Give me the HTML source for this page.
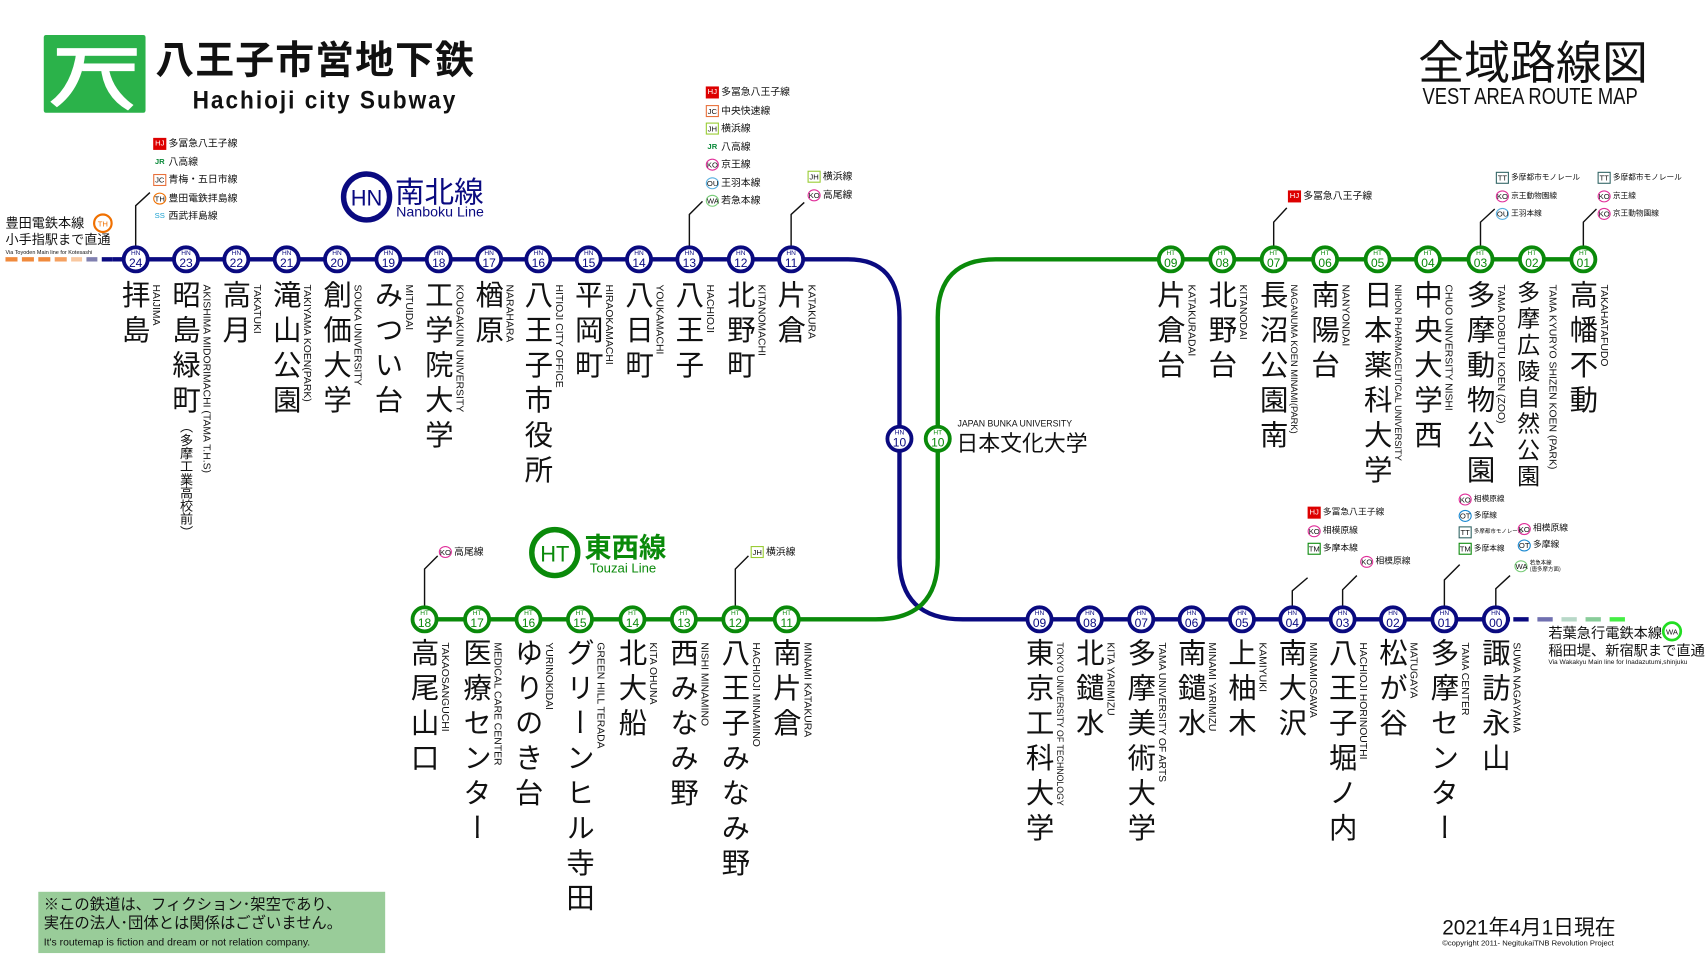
<!DOCTYPE html>
<html><head><meta charset="utf-8">
<style>
html,body{margin:0;padding:0;background:#fff;overflow:hidden}
#w{position:absolute;left:0;top:0;width:1560px;height:877px;transform:scale(1.09423);transform-origin:0 0;font-family:"Liberation Sans","Noto Sans CJK JP",sans-serif;color:#111}
.k{position:absolute;writing-mode:vertical-rl;font-size:26px;line-height:26px;letter-spacing:6px;width:26px;white-space:nowrap;font-family:"Noto Sans CJK JP","Liberation Sans",sans-serif;top:256px}
.kl{top:583px;letter-spacing:6px}
.r{position:absolute;writing-mode:vertical-rl;font-size:9.5px;line-height:11px;white-space:nowrap;font-family:"Liberation Sans Narrow","Liberation Sans",sans-serif;top:260px}
.rl{top:587px}
.t{position:absolute;font-size:9px;line-height:10px;white-space:nowrap;font-family:"Noto Sans CJK JP",sans-serif}
.t div{height:16.5px;display:flex;align-items:flex-start}
.b{display:inline-block;width:12px;height:11px;font-size:7px;line-height:11px;text-align:center;margin-right:2px;font-family:"Liberation Sans",sans-serif;box-sizing:border-box}
svg{position:absolute;left:0;top:0}
</style></head><body><div id="w">
<svg width="1560" height="877" viewBox="0 0 1560 877">
<rect x="40" y="32" width="93" height="71" rx="2" fill="#2bb24a"/>
<rect x="52" y="44" width="73" height="7" fill="#fff"/>
<rect x="75" y="58" width="48" height="7" fill="#fff"/>
<path d="M70 46 L78 46 Q76 80 52 98 L46 93 Q66 78 70 46Z" fill="#fff"/>
<path d="M92 60 L99 60 Q102 82 122 96 L117 101 Q94 88 92 60Z" fill="#fff"/>
<g stroke-width="4">
<line x1="5" y1="237" x2="16" y2="237" stroke="#f08a3c"/><line x1="20" y1="237" x2="31" y2="237" stroke="#f08a3c"/><line x1="35" y1="237" x2="46" y2="237" stroke="#f08a3c"/><line x1="50" y1="237" x2="61" y2="237" stroke="#f4a060"/><line x1="65" y1="237" x2="75" y2="237" stroke="#f8c8a0"/><line x1="79" y1="237" x2="89" y2="237" stroke="#8080b0"/><line x1="93" y1="237" x2="103" y2="237" stroke="#0a0a80"/>
<line x1="1383" y1="566" x2="1397" y2="566" stroke="#0a0a80"/><line x1="1405" y1="566" x2="1419" y2="566" stroke="#7070b0"/><line x1="1427" y1="566" x2="1441" y2="566" stroke="#b8d8c8"/><line x1="1449" y1="566" x2="1463" y2="566" stroke="#88cc99"/><line x1="1471" y1="566" x2="1485" y2="566" stroke="#44ee44"/>
</g>
<path d="M103 237 L775 237 Q822 237 822 290 L822 510 Q822 566 880 566 L1380 566" fill="none" stroke="#0a0a80" stroke-width="4"/>
<path d="M1447 237 L910 237 Q857 237 857 290 L857 510 Q857 566 800 566 L388 566" fill="none" stroke="#0a8a0a" stroke-width="4"/>
<g stroke="#111" stroke-width="1.3" fill="none">
<path d="M124 225 V188 L137 176"/><path d="M630 225 V196 L642 184"/><path d="M723 225 V196 L735 185"/>
<path d="M1164 225 V203 L1176 190"/><path d="M1353 225 V203 L1366 191"/><path d="M1447 225 V203 L1459 191"/>
<path d="M1181 554 V540 L1195 528"/><path d="M1227 554 V539 L1240 526"/><path d="M1320 554 V530 L1334 516"/><path d="M1367 554 V538 L1380 526"/>
<path d="M388 554 V520 L400 508"/><path d="M672 554 V520 L684 508"/>
</g>
<circle cx="335" cy="180" r="21" fill="#fff" stroke="#0a0a80" stroke-width="5"/>
<text x="335" y="188" font-size="20" text-anchor="middle" fill="#0a0a80" font-family="Liberation Sans">HN</text>
<circle cx="507" cy="505" r="21" fill="#fff" stroke="#0a8a0a" stroke-width="5"/>
<text x="507" y="513" font-size="20" text-anchor="middle" fill="#0a8a0a" font-family="Liberation Sans">HT</text>
<circle cx="94" cy="204" r="8" fill="#fff" stroke="#f07000" stroke-width="2"/><text x="94" y="207" font-size="7" text-anchor="middle" fill="#f07000">TH</text>
<circle cx="1528" cy="577" r="8" fill="#fff" stroke="#22dd22" stroke-width="2.5"/><text x="1528" y="580" font-size="7" text-anchor="middle" fill="#111">WA</text>
<g font-family="Liberation Sans Narrow,Liberation Sans" text-anchor="middle">
<g fill="#fff" stroke="#0a0a80" stroke-width="3.5">
<circle cx="124" cy="237" r="11"/><circle cx="170" cy="237" r="11"/><circle cx="216" cy="237" r="11"/><circle cx="262" cy="237" r="11"/><circle cx="308" cy="237" r="11"/><circle cx="355" cy="237" r="11"/><circle cx="401" cy="237" r="11"/><circle cx="447" cy="237" r="11"/><circle cx="492" cy="237" r="11"/><circle cx="538" cy="237" r="11"/><circle cx="584" cy="237" r="11"/><circle cx="630" cy="237" r="11"/><circle cx="677" cy="237" r="11"/><circle cx="723" cy="237" r="11"/><circle cx="822" cy="401" r="11"/>
<circle cx="950" cy="566" r="11"/><circle cx="996" cy="566" r="11"/><circle cx="1043" cy="566" r="11"/><circle cx="1089" cy="566" r="11"/><circle cx="1135" cy="566" r="11"/><circle cx="1181" cy="566" r="11"/><circle cx="1227" cy="566" r="11"/><circle cx="1273" cy="566" r="11"/><circle cx="1320" cy="566" r="11"/><circle cx="1367" cy="566" r="11"/>
</g>
<g fill="#fff" stroke="#0a8a0a" stroke-width="3.5">
<circle cx="1070" cy="237" r="11"/><circle cx="1117" cy="237" r="11"/><circle cx="1164" cy="237" r="11"/><circle cx="1211" cy="237" r="11"/><circle cx="1259" cy="237" r="11"/><circle cx="1305" cy="237" r="11"/><circle cx="1353" cy="237" r="11"/><circle cx="1400" cy="237" r="11"/><circle cx="1447" cy="237" r="11"/><circle cx="857" cy="401" r="11"/>
<circle cx="388" cy="566" r="11"/><circle cx="436" cy="566" r="11"/><circle cx="483" cy="566" r="11"/><circle cx="530" cy="566" r="11"/><circle cx="578" cy="566" r="11"/><circle cx="625" cy="566" r="11"/><circle cx="672" cy="566" r="11"/><circle cx="719" cy="566" r="11"/>
</g>
<g fill="#0a0a80" font-size="6">
<text x="124" y="233">HN</text><text x="170" y="233">HN</text><text x="216" y="233">HN</text><text x="262" y="233">HN</text><text x="308" y="233">HN</text><text x="355" y="233">HN</text><text x="401" y="233">HN</text><text x="447" y="233">HN</text><text x="492" y="233">HN</text><text x="538" y="233">HN</text><text x="584" y="233">HN</text><text x="630" y="233">HN</text><text x="677" y="233">HN</text><text x="723" y="233">HN</text><text x="822" y="397">HN</text>
<text x="950" y="562">HN</text><text x="996" y="562">HN</text><text x="1043" y="562">HN</text><text x="1089" y="562">HN</text><text x="1135" y="562">HN</text><text x="1181" y="562">HN</text><text x="1227" y="562">HN</text><text x="1273" y="562">HN</text><text x="1320" y="562">HN</text><text x="1367" y="562">HN</text>
</g>
<g fill="#0a0a80" font-size="11">
<text x="124" y="244">24</text><text x="170" y="244">23</text><text x="216" y="244">22</text><text x="262" y="244">21</text><text x="308" y="244">20</text><text x="355" y="244">19</text><text x="401" y="244">18</text><text x="447" y="244">17</text><text x="492" y="244">16</text><text x="538" y="244">15</text><text x="584" y="244">14</text><text x="630" y="244">13</text><text x="677" y="244">12</text><text x="723" y="244">11</text><text x="822" y="408">10</text>
<text x="950" y="573">09</text><text x="996" y="573">08</text><text x="1043" y="573">07</text><text x="1089" y="573">06</text><text x="1135" y="573">05</text><text x="1181" y="573">04</text><text x="1227" y="573">03</text><text x="1273" y="573">02</text><text x="1320" y="573">01</text><text x="1367" y="573">00</text>
</g>
<g fill="#0a8a0a" font-size="6">
<text x="1070" y="233">HT</text><text x="1117" y="233">HT</text><text x="1164" y="233">HT</text><text x="1211" y="233">HT</text><text x="1259" y="233">HT</text><text x="1305" y="233">HT</text><text x="1353" y="233">HT</text><text x="1400" y="233">HT</text><text x="1447" y="233">HT</text><text x="857" y="397">HT</text>
<text x="388" y="562">HT</text><text x="436" y="562">HT</text><text x="483" y="562">HT</text><text x="530" y="562">HT</text><text x="578" y="562">HT</text><text x="625" y="562">HT</text><text x="672" y="562">HT</text><text x="719" y="562">HT</text>
</g>
<g fill="#0a8a0a" font-size="11">
<text x="1070" y="244">09</text><text x="1117" y="244">08</text><text x="1164" y="244">07</text><text x="1211" y="244">06</text><text x="1259" y="244">05</text><text x="1305" y="244">04</text><text x="1353" y="244">03</text><text x="1400" y="244">02</text><text x="1447" y="244">01</text><text x="857" y="408">10</text>
<text x="388" y="573">18</text><text x="436" y="573">17</text><text x="483" y="573">16</text><text x="530" y="573">15</text><text x="578" y="573">14</text><text x="625" y="573">13</text><text x="672" y="573">12</text><text x="719" y="573">11</text>
</g>
</g>
<rect x="35" y="815" width="317" height="56" fill="#99cc99"/>
</svg>

<div style="position:absolute;left:142px;top:29px;font-size:35.5px;font-weight:bold;font-family:'Noto Sans CJK JP',sans-serif;letter-spacing:1px;line-height:48px;white-space:nowrap">八王子市営地下鉄</div>
<div style="position:absolute;left:176px;top:78px;font-size:23px;font-weight:bold;font-family:'Liberation Sans Narrow','Liberation Sans',sans-serif;letter-spacing:2px;transform:scaleX(0.9);transform-origin:0 0;white-space:nowrap">Hachioji city Subway</div>
<div style="position:absolute;left:1296px;top:26px;font-size:42px;font-family:'Noto Sans CJK JP',sans-serif;line-height:58px">全域路線図</div>
<div style="position:absolute;left:1300px;top:77px;font-size:21px;font-family:'Liberation Sans Narrow','Liberation Sans',sans-serif;transform:scaleX(0.8);transform-origin:0 0;white-space:nowrap">VEST AREA ROUTE MAP</div>

<div style="position:absolute;left:361px;top:156px;font-size:27px;color:#0a0a80;font-family:'Noto Sans CJK JP',sans-serif;line-height:36px">南北線</div>
<div style="position:absolute;left:362px;top:186px;font-size:13px;color:#0a0a80">Nanboku Line</div>
<div style="position:absolute;left:534px;top:482px;font-size:25px;color:#0a8a0a;font-weight:bold;font-family:'Noto Sans CJK JP',sans-serif;line-height:34px">東西線</div>
<div style="position:absolute;left:539px;top:512px;font-size:12px;color:#0a8a0a">Touzai Line</div>

<div style="position:absolute;left:5px;top:196px;font-size:12px;line-height:15px;font-family:'Noto Sans CJK JP',sans-serif">豊田電鉄本線<br>小手指駅まで直通</div>
<div style="position:absolute;left:5px;top:228px;font-size:5px">Via Toyoden Main line for Kotesashi</div>
<div style="position:absolute;left:1415px;top:570px;font-size:13px;line-height:16px;font-family:'Noto Sans CJK JP',sans-serif">若葉急行電鉄本線<br>稲田堤、新宿駅まで直通</div>
<div style="position:absolute;left:1415px;top:603px;font-size:6px">Via Wakakyu Main line for Inadazutumi,shinjuku</div>

<div style="position:absolute;left:875px;top:383px;font-size:8px">JAPAN BUNKA UNIVERSITY</div>
<div style="position:absolute;left:874px;top:390px;font-size:20px;font-family:'Noto Sans CJK JP',sans-serif;line-height:28px">日本文化大学</div>

<div class="k" style="left:111px">拝島</div><div class="r" style="left:137px">HAIJIMA</div>
<div class="k" style="left:157px">昭島緑町<span style="font-size:12px;letter-spacing:0">（多摩工業高校前）</span></div><div class="r" style="left:183px">AKISHIMA MIDORIMACHI (TAMA T.H.S)</div>
<div class="k" style="left:203px">高月</div><div class="r" style="left:229px">TAKATUKI</div>
<div class="k" style="left:249px">滝山公園</div><div class="r" style="left:275px">TAKIYAMA KOEN(PARK)</div>
<div class="k" style="left:295px">創価大学</div><div class="r" style="left:321px">SOUKA UNIVERSITY</div>
<div class="k" style="left:342px">みつい台</div><div class="r" style="left:368px">MITUIDAI</div>
<div class="k" style="left:388px">工学院大学</div><div class="r" style="left:414px">KOUGAKUIN UNIVERSITY</div>
<div class="k" style="left:434px">楢原</div><div class="r" style="left:460px">NARAHARA</div>
<div class="k" style="left:479px">八王子市役所</div><div class="r" style="left:505px">HITIOJI CITY OFFICE</div>
<div class="k" style="left:525px">平岡町</div><div class="r" style="left:551px">HIRAOKAMACHI</div>
<div class="k" style="left:571px">八日町</div><div class="r" style="left:597px">YOUKAMACHI</div>
<div class="k" style="left:617px">八王子</div><div class="r" style="left:643px">HACHIOJI</div>
<div class="k" style="left:664px">北野町</div><div class="r" style="left:690px">KITANOMACHI</div>
<div class="k" style="left:710px">片倉</div><div class="r" style="left:736px">KATAKURA</div>
<div class="k" style="left:1057px">片倉台</div><div class="r" style="left:1083px">KATAKURADAI</div>
<div class="k" style="left:1104px">北野台</div><div class="r" style="left:1130px">KITANODAI</div>
<div class="k" style="left:1151px">長沼公園南</div><div class="r" style="left:1177px;font-size:8.5px">NAGANUMA KOEN MINAMI(PARK)</div>
<div class="k" style="left:1198px">南陽台</div><div class="r" style="left:1224px">NANYONDAI</div>
<div class="k" style="left:1246px">日本薬科大学</div><div class="r" style="left:1272px;font-size:8.5px">NIHON PHARMACEUTICAL UNIVERSITY</div>
<div class="k" style="left:1292px">中央大学西</div><div class="r" style="left:1318px">CHUO UNIVERSITY NISHI</div>
<div class="k" style="left:1340px">多摩動物公園</div><div class="r" style="left:1366px">TAMA DOBUTU KOEN (ZOO)</div>
<div class="k" style="left:1389px;font-size:21px;letter-spacing:3px;width:21px">多摩広陵自然公園</div><div class="r" style="left:1413px">TAMA KYURYO SHIZEN KOEN (PARK)</div>
<div class="k" style="left:1434px">高幡不動</div><div class="r" style="left:1460px">TAKAHATAFUDO</div>

<div class="k kl" style="left:375px">高尾山口</div><div class="r rl" style="left:401px">TAKAOSANGUCHI</div>
<div class="k kl" style="left:423px">医療センター</div><div class="r rl" style="left:449px">MEDICAL CARE CENTER</div>
<div class="k kl" style="left:470px">ゆりのき台</div><div class="r rl" style="left:496px">YURINOKIDAI</div>
<div class="k kl" style="left:517px">グリーンヒル寺田</div><div class="r rl" style="left:543px">GREEN HILL TERADA</div>
<div class="k kl" style="left:565px">北大船</div><div class="r rl" style="left:591px">KITA OHUNA</div>
<div class="k kl" style="left:612px">西みなみ野</div><div class="r rl" style="left:638px">NISHI MINAMINO</div>
<div class="k kl" style="left:659px">八王子みなみ野</div><div class="r rl" style="left:685px">HACHIOJI MINAMINO</div>
<div class="k kl" style="left:706px">南片倉</div><div class="r rl" style="left:732px">MINAMI KATAKURA</div>
<div class="k kl" style="left:937px">東京工科大学</div><div class="r rl" style="left:963px;font-size:8px">TOKYO UNIVERSITY OF TECHNOLOGY</div>
<div class="k kl" style="left:983px">北鑓水</div><div class="r rl" style="left:1009px">KITA YARIMIZU</div>
<div class="k kl" style="left:1030px">多摩美術大学</div><div class="r rl" style="left:1056px">TAMA UNIVERSITY OF ARTS</div>
<div class="k kl" style="left:1076px">南鑓水</div><div class="r rl" style="left:1102px">MINAMI YARIMIZU</div>
<div class="k kl" style="left:1122px">上柚木</div><div class="r rl" style="left:1148px">KAMIYUKI</div>
<div class="k kl" style="left:1168px">南大沢</div><div class="r rl" style="left:1194px">MINAMIOSAWA</div>
<div class="k kl" style="left:1214px">八王子堀ノ内</div><div class="r rl" style="left:1240px">HACHIOJI HORINOUTHI</div>
<div class="k kl" style="left:1260px">松が谷</div><div class="r rl" style="left:1286px">MATUGAYA</div>
<div class="k kl" style="left:1307px">多摩センター</div><div class="r rl" style="left:1333px">TAMA CENTER</div>
<div class="k kl" style="left:1354px">諏訪永山</div><div class="r rl" style="left:1380px">SUWA NAGAYAMA</div>

<div class="t" style="left:140px;top:126px">
<div><span class="b" style="background:#d00;color:#fff">HJ</span>多冨急八王子線</div>
<div><span class="b" style="color:#0a8a3a;font-weight:bold">JR</span>八高線</div>
<div><span class="b" style="border:1.5px solid #e8703a">JC</span>青梅・五日市線</div>
<div><span class="b" style="border:1.5px solid #f07000;border-radius:50%">TH</span>豊田電鉄拝島線</div>
<div><span class="b" style="color:#1aa0d0">SS</span>西武拝島線</div>
</div>
<div class="t" style="left:645px;top:79px">
<div><span class="b" style="background:#d00;color:#fff">HJ</span>多冨急八王子線</div>
<div><span class="b" style="border:1.5px solid #e8703a">JC</span>中央快速線</div>
<div><span class="b" style="border:1.5px solid #9c3">JH</span>横浜線</div>
<div><span class="b" style="color:#0a8a3a;font-weight:bold">JR</span>八高線</div>
<div><span class="b" style="border:1.5px solid #e0309a;border-radius:50%">KO</span>京王線</div>
<div><span class="b" style="border:1.5px solid #5ab0e0;border-radius:50%">OU</span>王羽本線</div>
<div><span class="b" style="border:1.5px solid #77cc77;border-radius:50%">WA</span>若急本線</div>
</div>
<div class="t" style="left:738px;top:156px">
<div><span class="b" style="border:1.5px solid #9c3">JH</span>横浜線</div>
<div><span class="b" style="border:1.5px solid #e0309a;border-radius:50%">KO</span>高尾線</div>
</div>
<div class="t" style="left:1177px;top:174px">
<div><span class="b" style="background:#d00;color:#fff">HJ</span>多冨急八王子線</div>
</div>
<div class="t" style="left:1367px;top:157px;font-size:7px">
<div><span class="b" style="border:1.5px solid #366">TT</span>多摩都市モノレール</div>
<div><span class="b" style="border:1.5px solid #e0309a;border-radius:50%">KO</span>京王動物園線</div>
<div><span class="b" style="border:1.5px solid #5ab0e0;border-radius:50%">OU</span>王羽本線</div>
</div>
<div class="t" style="left:1460px;top:157px;font-size:7px">
<div><span class="b" style="border:1.5px solid #366">TT</span>多摩都市モノレール</div>
<div><span class="b" style="border:1.5px solid #e0309a;border-radius:50%">KO</span>京王線</div>
<div><span class="b" style="border:1.5px solid #e0309a;border-radius:50%">KO</span>京王動物園線</div>
</div>
<div class="t" style="left:1195px;top:463px;font-size:8px">
<div><span class="b" style="background:#d00;color:#fff">HJ</span>多冨急八王子線</div>
<div><span class="b" style="border:1.5px solid #e0309a;border-radius:50%">KO</span>相模原線</div>
<div><span class="b" style="border:1.5px solid #0a8a0a">TM</span>多摩本線</div>
</div>
<div class="t" style="left:1243px;top:508px;font-size:8px">
<div><span class="b" style="border:1.5px solid #e0309a;border-radius:50%">KO</span>相模原線</div>
</div>
<div class="t" style="left:1333px;top:451px;font-size:7px">
<div style="height:15px"><span class="b" style="border:1.5px solid #e0309a;border-radius:50%">KO</span>相模原線</div>
<div style="height:15px"><span class="b" style="border:1.5px solid #1a88d0;border-radius:50%">OT</span>多摩線</div>
<div style="height:15px"><span class="b" style="border:1.5px solid #366">TT</span><span style="font-size:5px">多摩都市モノレール</span></div>
<div style="height:15px"><span class="b" style="border:1.5px solid #0a8a0a">TM</span>多摩本線</div>
</div>
<div class="t" style="left:1387px;top:478px;font-size:8px">
<div style="height:15px"><span class="b" style="border:1.5px solid #e0309a;border-radius:50%">KO</span>相模原線</div>
<div style="height:15px"><span class="b" style="border:1.5px solid #1a88d0;border-radius:50%">OT</span>多摩線</div>
</div>
<div class="t" style="left:1384px;top:512px;font-size:5px;line-height:6px">
<div><span class="b" style="border:1.5px solid #77cc77;border-radius:50%">WA</span>若急本線<br>(唐多摩方面)</div>
</div>
<div class="t" style="left:401px;top:499px">
<div><span class="b" style="border:1.5px solid #e0309a;border-radius:50%">KO</span>高尾線</div>
</div>
<div class="t" style="left:686px;top:499px">
<div><span class="b" style="border:1.5px solid #9c3">JH</span>横浜線</div>
</div>

<div style="position:absolute;left:40px;top:818px;font-size:14px;line-height:17px;font-family:'Noto Sans CJK JP',sans-serif">※この鉄道は、フィクション･架空であり、<br>実在の法人･団体とは関係はございません。</div>
<div style="position:absolute;left:40px;top:856px;font-size:9.5px">It's routemap is fiction and dream or not relation company.</div>
<div style="position:absolute;left:1318px;top:833px;font-size:19px;font-family:'Liberation Sans','Noto Sans CJK JP',sans-serif">2021年4月1日現在</div>
<div style="position:absolute;left:1318px;top:859px;font-size:7px">©copyright 2011- NegitukaiTNB Revolution Project</div>
</div></body></html>
